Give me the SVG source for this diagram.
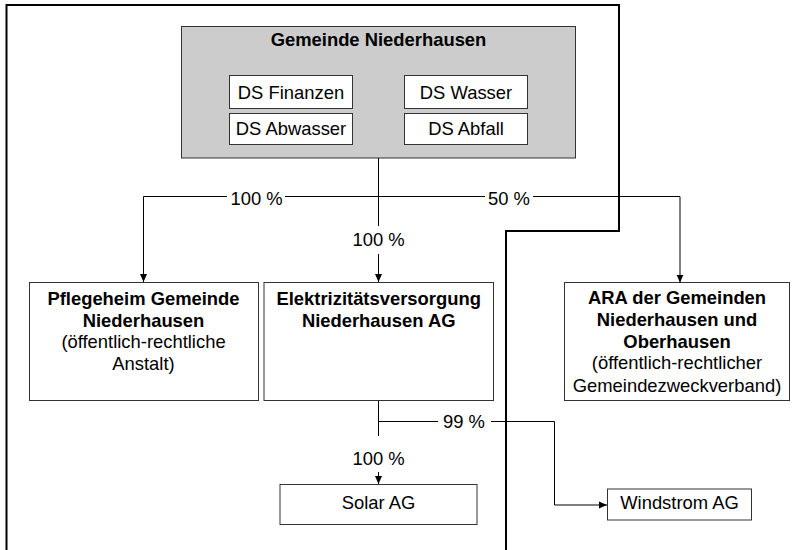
<svg xmlns="http://www.w3.org/2000/svg" width="798" height="550" viewBox="0 0 798 550">
<style>
  text { font-family: "Liberation Sans", Arial, sans-serif; font-size: 18.4px; fill: #000; text-anchor: middle; }
  .b { font-weight: bold; }
  .box { fill: #fff; stroke: #333; stroke-width: 1; }
  .grey { fill: #cccccc; stroke: #333; stroke-width: 1; }
  .conn { fill: none; stroke: #000; stroke-width: 1; }
  .frame { fill: none; stroke: #000; stroke-width: 2; }
</style>
<defs>
  <marker id="arr" markerUnits="userSpaceOnUse" markerWidth="8" markerHeight="8" refX="8" refY="4" orient="auto">
    <path d="M0,0.5 L8,4 L0,7.5 z" fill="#000"/>
  </marker>
</defs>
<rect width="798" height="550" fill="#fff"/>
<path class="frame" d="M6.5,551 V5 H619 V231 H506 V551"/>

<g id="gemeinde">
  <rect class="grey" x="181.5" y="26.5" width="394" height="131.5"/>
  <text class="b" x="378.5" y="46">Gemeinde Niederhausen</text>
  <g id="ds-finanzen">
    <rect class="box" x="229.5" y="75.5" width="123" height="33"/>
    <text x="291" y="98.5">DS Finanzen</text>
  </g>
  <g id="ds-abwasser">
    <rect class="box" x="229.5" y="113.5" width="123" height="31"/>
    <text x="291" y="135">DS Abwasser</text>
  </g>
  <g id="ds-wasser">
    <rect class="box" x="404.5" y="75.5" width="123" height="33"/>
    <text x="466" y="98.5">DS Wasser</text>
  </g>
  <g id="ds-abfall">
    <rect class="box" x="404.5" y="113.5" width="123" height="31"/>
    <text x="466" y="135">DS Abfall</text>
  </g>
</g>

<g id="pflegeheim">
  <rect class="box" x="29.5" y="282.5" width="229" height="118"/>
  <text class="b" x="143.5" y="305">Pflegeheim Gemeinde</text>
  <text class="b" x="143.5" y="326.7">Niederhausen</text>
  <text x="143.5" y="348.4">(öffentlich-rechtliche</text>
  <text x="143.5" y="370.1">Anstalt)</text>
</g>

<g id="elektrizitaet">
  <rect class="box" x="264" y="282.5" width="229.5" height="118"/>
  <text class="b" x="378.7" y="305">Elektrizitätsversorgung</text>
  <text class="b" x="378.7" y="326.7">Niederhausen AG</text>
</g>

<g id="ara">
  <rect class="box" x="564.5" y="282.5" width="225" height="118"/>
  <text class="b" x="677" y="304.3">ARA der Gemeinden</text>
  <text class="b" x="677" y="326">Niederhausen und</text>
  <text class="b" x="677" y="347.7">Oberhausen</text>
  <text x="677" y="369.4">(öffentlich-rechtlicher</text>
  <text x="677" y="391.5">Gemeindezweckverband)</text>
</g>

<g id="solar">
  <rect class="box" x="280" y="484.5" width="197" height="40"/>
  <text x="378.5" y="509">Solar AG</text>
</g>

<g id="windstrom">
  <rect class="box" x="607.5" y="489" width="144" height="31"/>
  <text x="679.5" y="509">Windstrom AG</text>
</g>

<g id="connectors">
  <path class="conn" d="M378.5,158 V226"/>
  <path class="conn" d="M378.5,254 V282" marker-end="url(#arr)"/>
  <path class="conn" d="M227,196.5 H143.5 V282" marker-end="url(#arr)"/>
  <path class="conn" d="M285,196.5 H485"/>
  <path class="conn" d="M533,196.5 H680 V282.5" marker-end="url(#arr)"/>
  <text x="256.5" y="205">100 %</text>
  <text x="509" y="205">50 %</text>
  <text x="378.5" y="246">100 %</text>

  <path class="conn" d="M378.5,401 V436"/>
  <path class="conn" d="M378.5,472 V484" marker-end="url(#arr)"/>
  <path class="conn" d="M378.5,421.5 H438"/>
  <path class="conn" d="M491,421.5 H554.5 V505 H607" marker-end="url(#arr)"/>
  <text x="378.5" y="465">100 %</text>
  <text x="464" y="428">99 %</text>
</g>
</svg>
